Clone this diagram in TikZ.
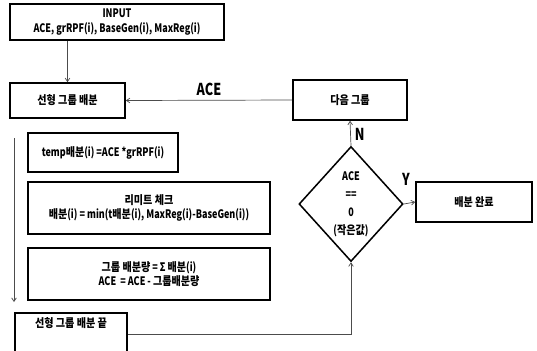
\documentclass[tikz,border=0pt]{standalone}
\usepackage{fontspec}
\setmainfont{Noto Sans CJK KR}[FakeStretch=0.77]
\newfontfamily\kr{Noto Sans CJK KR}[FakeStretch=0.86]
\usetikzlibrary{shapes.geometric,arrows.meta,calc}
\newcommand{\pxu}{0.03cm}
\tikzset{
  box/.style={draw=black, line width=1.3pt, fill=white, inner sep=2pt, align=center,
    font=\fontsize{10}{12.5}\selectfont\bfseries},
  decision/.style={draw=black, diamond, line width=1.3pt, fill=white, inner sep=0pt, align=center,
    minimum width=104*\pxu, minimum height=115*\pxu, font=\fontsize{10}{12}\selectfont\bfseries},
  flow/.style={draw=black!70, line width=0.6pt, -{Straight Barb[length=3pt,width=4pt]}},
  tag/.style={font=\fontsize{14}{16}\selectfont\bfseries}
}

\begin{document}
\begin{tikzpicture}[x=\pxu, y=-\pxu]
  \useasboundingbox (0,0) rectangle (537,350);

  % Left column
  \node[box, minimum width=214*\pxu, minimum height=36*\pxu] (input) at (117,22)
    {INPUT\\ACE, grRPF(i), BaseGen(i), MaxReg(i)};
  \node[box, minimum width=115*\pxu, minimum height=35*\pxu] (linstart) at (67.5,100.5) {\kr 선형 그룹 배분};
  \node[box, minimum width=150*\pxu, minimum height=39*\pxu] (tempbox) at (103,152.5)
    {temp{\kr 배분}(i) =ACE *grRPF(i)};
  \node[box, minimum width=242*\pxu, minimum height=52*\pxu] (limit) at (149,208)
    {{\kr 리미트 체크}\\{\kr 배분}(i) = min(t{\kr 배분}(i), MaxReg(i)-BaseGen(i))};
  \node[box, minimum width=242*\pxu, minimum height=52*\pxu] (sumbox) at (149,274)
    {{\kr 그룹 배분량} = Σ {\kr 배분}(i)\\ACE \ = ACE - {\kr 그룹배분량}};
  \node[box, minimum width=112*\pxu, minimum height=44*\pxu, text height=6pt, text depth=19pt,
    anchor=north] (linend) at (71,312) {\kr 선형 그룹 배분 끝};

  % Right column
  \node[box, minimum width=114*\pxu, minimum height=40*\pxu] (nextgrp) at (350,100) {\kr 다음 그룹};
  \node[decision] (dec) at (351,204) {ACE\\[3.5pt]==\\[3.5pt]0\\[3.5pt]({\kr 작은값})};
  \node[box, minimum width=116*\pxu, minimum height=40*\pxu] (done) at (474,202) {\kr 배분 완료};

  % Loop marker
  \coordinate (loopTop) at (14,138);
  \coordinate (loopBot) at (14,302);
  \draw[flow] (loopTop) -- (loopBot);

  % Connectors
  \draw[flow] (input.south -| linstart.north) -- (linstart.north);
  \draw[flow] (nextgrp.west) -- (linstart.east) node[midway, above, tag] {ACE};
  \draw[flow] (dec.north) -- (nextgrp.south) node[pos=0.45, right, tag] {N};
  \draw[flow] (dec.east) -- (done.west) node[pos=0.2, above=12pt, tag] {Y};
  \draw[flow] (linend.east) -| (dec.south);
\end{tikzpicture}
\end{document}
